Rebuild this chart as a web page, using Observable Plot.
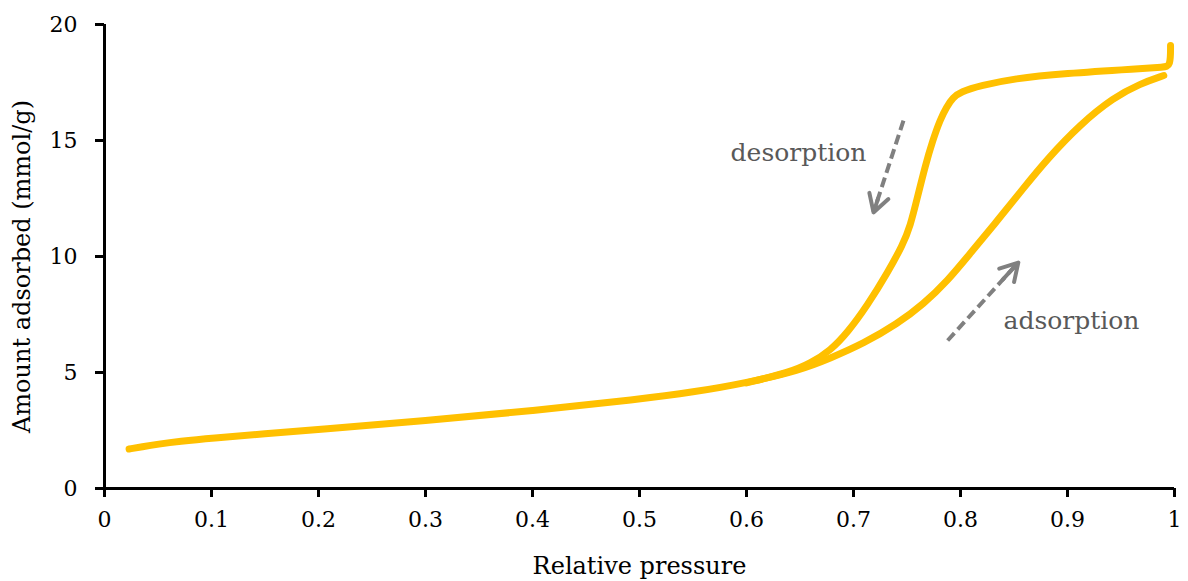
<!DOCTYPE html>
<html>
<head>
<meta charset="utf-8">
<script src="https://cdn.jsdelivr.net/npm/d3@7"></script>
<script src="https://cdn.jsdelivr.net/npm/@observablehq/plot@0.6"></script>
<style>
  html, body { margin: 0; padding: 0; background: #fff; }
</style>
</head>
<body>
<div id="chart"></div>
<script>
// Adsorption branch (relative pressure, amount adsorbed mmol/g)
const adsX = [0.023, 0.035, 0.05, 0.07, 0.1, 0.15, 0.2, 0.3, 0.4, 0.5, 0.55, 0.6, 0.65, 0.6785, 0.7093, 0.7411, 0.7654, 0.7879, 0.8093, 0.8346, 0.8589, 0.881, 0.912, 0.943, 0.968, 0.99];
const adsY = [1.7, 1.8, 1.91, 2.03, 2.17, 2.36, 2.54, 2.92, 3.35, 3.85, 4.15, 4.55, 5.1, 5.62, 6.25, 7.1, 7.95, 8.95, 10.15, 11.55, 12.95, 14.2, 15.7, 16.85, 17.45, 17.8];
// Desorption branch
const desX = [0.9963, 0.9963, 0.99, 0.968, 0.896, 0.85, 0.819, 0.8, 0.793, 0.787, 0.781, 0.774, 0.767, 0.76, 0.753, 0.746, 0.7318, 0.7131, 0.6944, 0.6785, 0.66, 0.64, 0.6];
const desY = [19.1, 18.2, 18.16, 18.1, 17.89, 17.67, 17.37, 17.1, 16.85, 16.45, 15.9, 15.0, 13.9, 12.6, 11.3, 10.5, 9.3, 7.9, 6.72, 5.95, 5.4, 5.0, 4.55];

// Annotations
const labelNames = ["desorption", "adsorption"];
const labelX = [0.6486, 0.9037];
const labelY = [14.44, 7.24];
const arrowX1 = [0.7467, 0.788];
const arrowY1 = [15.86, 6.38];
const arrowX2 = [0.7187, 0.854];
const arrowY2 = [11.9, 9.74];

// Ticks
const xTicks = [0, 0.1, 0.2, 0.3, 0.4, 0.5, 0.6, 0.7, 0.8, 0.9, 1];
const xTickLabels = ["0", "0.1", "0.2", "0.3", "0.4", "0.5", "0.6", "0.7", "0.8", "0.9", "1"];
const yTicks = [0, 5, 10, 15, 20];
const xTitle = "Relative pressure";
const yTitle = "Amount adsorbed (mmol/g)";

const curves = [
  ...adsX.map((x, i) => ({branch: "adsorption", x, y: adsY[i]})),
  ...desX.map((x, i) => ({branch: "desorption", x, y: desY[i]}))
];
const labels = labelNames.map((t, i) => ({t, x: labelX[i], y: labelY[i]}));
const arrows = arrowX1.map((x1, i) => ({x1, y1: arrowY1[i], x2: arrowX2[i], y2: arrowY2[i]}));

const chart = Plot.plot({
  width: 1188,
  height: 581,
  marginLeft: 104,
  marginRight: 14,
  marginTop: 24,
  marginBottom: 93,
  x: {domain: [0, 1]},
  y: {domain: [0, 20]},
  style: {fontFamily: "DejaVu Serif", background: "white", color: "black"},
  marks: [
    Plot.axisX({ticks: xTicks, tickFormat: d => xTickLabels[xTicks.indexOf(d)], tickSize: 9, tickPadding: 14, strokeWidth: 3, fontSize: 22, label: null}),
    Plot.axisY({ticks: yTicks, tickSize: 9, tickPadding: 18, strokeWidth: 3, fontSize: 22, label: null}),
    Plot.ruleX([0], {strokeWidth: 3}),
    Plot.ruleY([0], {strokeWidth: 3}),
    Plot.line(curves, {x: "x", y: "y", z: "branch", stroke: "#FFC000", strokeWidth: 7, strokeLinecap: "round", strokeLinejoin: "round", curve: "basis"}),
    // dashed shafts
    Plot.link(arrows, {x1: "x1", y1: "y1", x2: "x2", y2: "y2", stroke: "#808080", strokeWidth: 4, strokeDasharray: "10,5"}),
    // solid heads (shaft trimmed from the start)
    Plot.arrow(arrows, {x1: "x1", y1: "y1", x2: "x2", y2: "y2", stroke: "#808080", strokeWidth: 4, headLength: 7.5, headAngle: 60, insetStart: 82}),
    Plot.text(labels, {x: "x", y: "y", text: "t", fontSize: 25, fill: "#595959"}),
    Plot.text([xTitle], {frameAnchor: "bottom", lineAnchor: "middle", textAnchor: "middle", dy: 78, fontSize: 24, fill: "black"}),
    Plot.text([yTitle], {frameAnchor: "left", textAnchor: "middle", lineAnchor: "middle", dx: -82, dy: 10, rotate: -90, fontSize: 24, fill: "black"})
  ]
});
document.getElementById("chart").appendChild(chart);
</script>
</body>
</html>
